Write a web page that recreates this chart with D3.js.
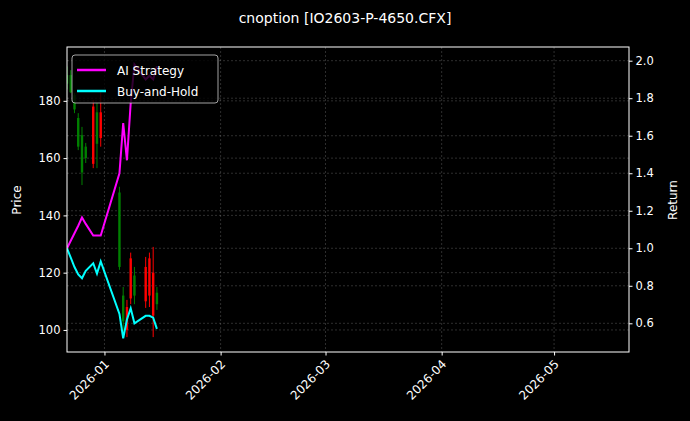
<!DOCTYPE html>
<html>
<head>
<meta charset="UTF-8">
<script src="https://d3js.org/d3.v7.min.js"></script>
<style>
  body { margin: 0; background: #000; }
  text { font-family: "DejaVu Sans", sans-serif; fill: #fff; }
</style>
</head>
<body>
<svg id="chart" width="690" height="421"></svg>
<script>
// data
var dates = ["2025-12-22","2025-12-23","2025-12-24","2025-12-25","2025-12-26","2025-12-27",
             "2025-12-29","2025-12-30","2025-12-31","2026-01-05","2026-01-06","2026-01-07",
             "2026-01-08","2026-01-09","2026-01-12","2026-01-13","2026-01-14","2026-01-15"];
var open  = [186, 183, 177, 164, 155, 160, 178, 165, 176, 122, 103, 108, 125, 112, 122, 125, 120, 109];
var high  = [192, 190.7, 182.7, 175.7, 170.9, 165.3, 180.3, 179.2, 183, 150, 115, 110.5, 127, 122, 125.5, 127, 129, 115];
var low   = [184, 182.7, 175.7, 162.8, 150.6, 158.3, 156.5, 156.5, 164, 121, 99, 97.5, 109, 109, 107.7, 108, 97.5, 107];
var close = [189, 189, 182, 174, 168, 164, 158, 176, 167, 148, 112, 100, 111, 119, 110, 112, 105, 113];
var aiStrategy  = [1.0, 1.04, 1.08, 1.12, 1.164, 1.13, 1.068, 1.068, 1.068, 1.40, 1.667, 1.469, 1.774, 1.98, 1.90, 1.92, 1.90, 1.97];
var buyAndHold  = [1.0, 0.95, 0.90, 0.86, 0.84, 0.88, 0.92, 0.865, 0.93, 0.65, 0.52, 0.62, 0.68, 0.60, 0.64, 0.64, 0.63, 0.57];
var xTicks = ["2026-01-01","2026-02-01","2026-03-01","2026-04-01","2026-05-01"];
var priceTicks = [100, 120, 140, 160, 180];
var returnTicks = [0.6, 0.8, 1.0, 1.2, 1.4, 1.6, 1.8, 2.0];

var parse = d3.utcParse("%Y-%m-%d");
var rows = dates.map(function(d, i) {
  return { date: parse(d), o: open[i], h: high[i], l: low[i], c: close[i], ai: aiStrategy[i], bh: buyAndHold[i] };
});

var svg = d3.select("#chart");
var L = 67, R = 629, T = 47, B = 352;
svg.append("rect").attr("width", 690).attr("height", 421).attr("fill", "#000");

var x = d3.scaleUtc().domain([parse("2025-12-22"), parse("2026-05-21")]).range([L, R]);
var yP = d3.scaleLinear().domain([92.3, 198.8]).range([B, T]);
var yR = d3.scaleLinear().domain([0.447, 2.073]).range([B, T]);

// grid
var grid = svg.append("g").attr("stroke", "#fff").attr("stroke-opacity", 0.3)
  .attr("stroke-dasharray", "2,2").attr("stroke-width", 0.6);
xTicks.forEach(function(t) {
  grid.append("line").attr("x1", x(parse(t))).attr("x2", x(parse(t))).attr("y1", T).attr("y2", B);
});
priceTicks.forEach(function(t) {
  grid.append("line").attr("x1", L).attr("x2", R).attr("y1", yP(t)).attr("y2", yP(t));
});
returnTicks.forEach(function(t) {
  grid.append("line").attr("x1", L).attr("x2", R).attr("y1", yR(t)).attr("y2", yR(t));
});

var plot = svg.append("g");
svg.append("clipPath").attr("id", "clip").append("rect")
  .attr("x", L).attr("y", T).attr("width", R - L).attr("height", B - T);
plot.attr("clip-path", "url(#clip)");

// candles
var candle = plot.selectAll("g.c").data(rows).enter().append("g");
candle.append("line")
  .attr("x1", function(d) { return x(d.date); }).attr("x2", function(d) { return x(d.date); })
  .attr("y1", function(d) { return yP(d.h); }).attr("y2", function(d) { return yP(d.l); })
  .attr("stroke", function(d) { return d.c >= d.o ? "#008000" : "#ff0000"; }).attr("stroke-width", 1);
candle.append("rect")
  .attr("x", function(d) { return x(d.date) - 1.2; }).attr("width", 2.4)
  .attr("y", function(d) { return yP(Math.max(d.o, d.c)); })
  .attr("height", function(d) { return Math.max(1, Math.abs(yP(d.o) - yP(d.c))); })
  .attr("fill", function(d) { return d.c >= d.o ? "#008000" : "#ff0000"; });

// return lines
var lineAI = d3.line().x(function(d) { return x(d.date); }).y(function(d) { return yR(d.ai); });
var lineBH = d3.line().x(function(d) { return x(d.date); }).y(function(d) { return yR(d.bh); });
plot.append("path").datum(rows).attr("d", lineAI).attr("fill", "none").attr("stroke", "#ff00ff").attr("stroke-width", 2);
plot.append("path").datum(rows).attr("d", lineBH).attr("fill", "none").attr("stroke", "#00ffff").attr("stroke-width", 2);

// frame
svg.append("rect").attr("x", L).attr("y", T).attr("width", R - L).attr("height", B - T)
  .attr("fill", "none").attr("stroke", "#fff").attr("stroke-width", 1);

// axes
var ax = svg.append("g").attr("transform", "translate(0," + B + ")")
  .call(d3.axisBottom(x).tickValues(xTicks.map(parse)).tickFormat(d3.utcFormat("%Y-%m")).tickSizeOuter(0).tickSize(3.5));
ax.selectAll("text").attr("text-anchor", "end").attr("y", 0).attr("dy", "0.35em")
  .attr("transform", "translate(2,10) rotate(-45)").style("font-size", "12px");
var ayL = svg.append("g").attr("transform", "translate(" + L + ",0)")
  .call(d3.axisLeft(yP).tickValues(priceTicks).tickSizeOuter(0).tickSize(3.5));
ayL.selectAll("text").style("font-size", "11.5px");
var ayR = svg.append("g").attr("transform", "translate(" + R + ",0)")
  .call(d3.axisRight(yR).tickValues(returnTicks).tickFormat(d3.format(".1f")).tickSizeOuter(0).tickSize(3.5));
ayR.selectAll("text").style("font-size", "11.5px");
svg.selectAll(".domain").remove();
svg.selectAll(".tick line").attr("stroke", "#fff");

// labels
svg.append("text").attr("x", 345).attr("y", 23).attr("text-anchor", "middle").style("font-size", "14px")
  .text("cnoption [IO2603-P-4650.CFX]");
svg.append("text").attr("transform", "translate(21,200) rotate(-90)").attr("text-anchor", "middle")
  .style("font-size", "12px").text("Price");
svg.append("text").attr("transform", "translate(677,200) rotate(-90)").attr("text-anchor", "middle")
  .style("font-size", "12px").text("Return");

// legend
var lg = svg.append("g");
lg.append("rect").attr("x", 72).attr("y", 55).attr("width", 146).attr("height", 48).attr("rx", 3)
  .attr("fill", "#000").attr("fill-opacity", 0.8).attr("stroke", "#ccc").attr("stroke-width", 0.8);
[["AI Strategy", "#ff00ff"], ["Buy-and-Hold", "#00ffff"]].forEach(function(e, i) {
  var yy = 70 + i * 21;
  lg.append("line").attr("x1", 77).attr("x2", 106).attr("y1", yy).attr("y2", yy)
    .attr("stroke", e[1]).attr("stroke-width", 2.5);
  lg.append("text").attr("x", 117).attr("y", yy + 4.5).style("font-size", "12px").text(e[0]);
});
</script>
</body>
</html>
